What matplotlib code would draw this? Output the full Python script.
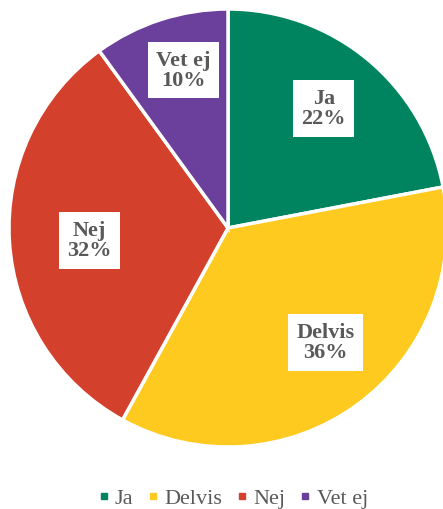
import matplotlib.pyplot as plt
import numpy as np

categories = ['Ja', 'Delvis', 'Nej', 'Vet ej']
shares = [22, 36, 32, 10]
colors = ['#00845F', '#FFCA1F', '#D3402B', '#6B3F9C']
# label box placement: radius fraction and angle shift from the wedge middle
label_radius = [0.70, 0.685, 0.635, 0.75]
label_shift = [1.0, 4.4, 1.4, -2.2]

plt.rcParams['font.family'] = ['Liberation Serif', 'DejaVu Serif']

fig = plt.figure(figsize=(4.43, 5.10), dpi=100)
cx, cy, r = 228, 229, 219
ax = fig.add_axes([(cx - r) / 443, (510 - cy - r) / 510, 2 * r / 443, 2 * r / 510])

wedges, _ = ax.pie(shares, colors=colors, startangle=90, counterclock=False,
                   wedgeprops=dict(edgecolor='white', linewidth=2.5))
ax.set_xlim(-1, 1)
ax.set_ylim(-1, 1)
ax.set_aspect('equal')

for w, cat, val, lr, sh in zip(wedges, categories, shares, label_radius, label_shift):
    mid = np.deg2rad((w.theta1 + w.theta2) / 2 + sh)
    ax.text(lr * np.cos(mid), lr * np.sin(mid), f'{cat}\n{val}%',
            ha='center', va='center', fontsize=16, fontweight='bold',
            color='#595959', linespacing=1.0,
            bbox=dict(facecolor='white', edgecolor='none', pad=6))

handles = [plt.Line2D([], [], marker='s', linestyle='', color=c, markersize=5)
           for c in colors]
fig.legend(handles, categories, loc='center', bbox_to_anchor=(0.5 + 12 / 443, 11 / 510),
           ncol=4, frameon=False, fontsize=16, labelcolor='#595959',
           handletextpad=0.3, columnspacing=0.7, handlelength=0.4)

fig.savefig('out.png', dpi=100)
